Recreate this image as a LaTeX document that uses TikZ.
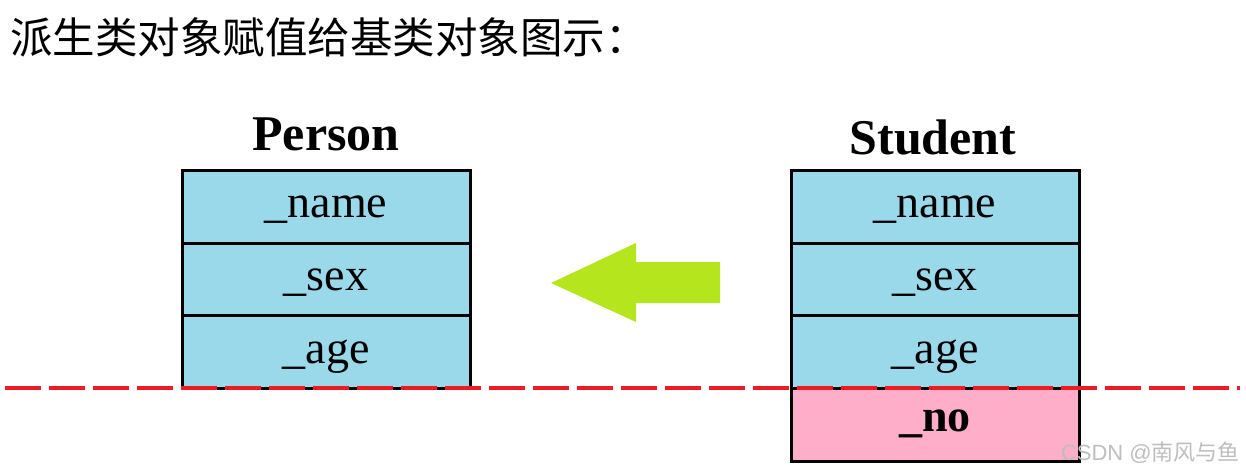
\documentclass[tikz,border=0pt]{standalone}
\usepackage{fontspec}
\setmainfont{Liberation Serif}
\newfontfamily\cjk{Noto Sans CJK SC}
\newfontfamily\wm{Liberation Sans}
\definecolor{cellblue}{RGB}{153,217,234}
\definecolor{cellpink}{RGB}{255,174,201}
\definecolor{arrowgreen}{RGB}{181,230,29}
\definecolor{linered}{RGB}{237,28,36}
\definecolor{wmgray}{RGB}{190,190,190}
\tikzset{
  field/.style={draw=black, line width=3pt, fill=cellblue, minimum width=288pt, minimum height=73pt, inner sep=0pt, text height=22pt, text depth=0pt, font=\fontsize{46}{50}\selectfont},
  extrafield/.style={field, fill=cellpink, text height=12pt, font=\fontsize{46}{50}\selectfont\bfseries},
  classtitle/.style={font=\fontsize{50}{54}\selectfont\bfseries, inner sep=0pt, anchor=base},
}
\begin{document}
\begin{tikzpicture}[x=1pt,y=-1pt]
\useasboundingbox (0,0) rectangle (1246,474);
\node[anchor=west, inner sep=0pt, font=\cjk\fontsize{42.5}{44}\selectfont] (title) at (10,37) {派生类对象赋值给基类对象图示：};
% Person
\node[classtitle] (ptitle) at (326,150) {Person};
\node[field] (pname) at (326,206.5) {\_name};
\node[field] (psex) at (326,279.5) {\_sex};
\node[field] (page) at (326,352) {\_age};
% Student
\node[classtitle] (stitle) at (933,154) {Student};
\node[field] (sname) at (935,206.5) {\_name};
\node[field] (ssex) at (935,279.5) {\_sex};
\node[field] (sage) at (935,352) {\_age};
\node[extrafield] (sno) at (935,425) {\_no};
% arrow
\fill[arrowgreen] (551,283) -- (636,243) -- (636,262) -- (720,262) -- (720,303) -- (636,303) -- (636,322) -- cycle;
% dashed line
\coordinate (dl) at (5,388);
\coordinate (dr) at (1240,388);
\draw[linered, line width=4pt, dash pattern=on 36pt off 8pt] (dl) -- (dr);
% watermark
\node[anchor=east, inner sep=0pt, text=wmgray, font=\wm\fontsize{22}{24}\selectfont] (wmark) at (1240,453) {CSDN @{\cjk 南风与鱼}};
\end{tikzpicture}
\end{document}
